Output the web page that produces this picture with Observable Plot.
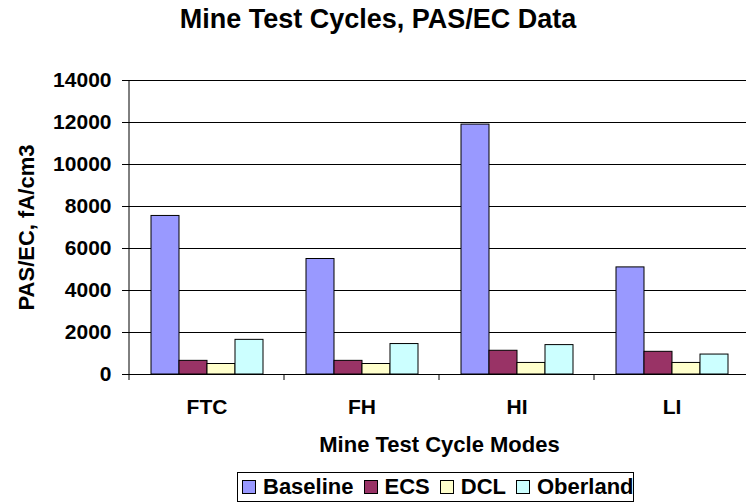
<!DOCTYPE html>
<html>
<head>
<meta charset="utf-8">
<script src="https://cdn.jsdelivr.net/npm/d3@7"></script>
<script src="https://cdn.jsdelivr.net/npm/@observablehq/plot@0.6"></script>
<style>
  body { margin: 0; background: #fff; font-family: "Liberation Sans", Arial, sans-serif; }
  #wrap { position: relative; width: 746px; height: 503px; overflow: hidden; background: #fff; }
  #title { position: absolute; left: 0; top: 6px; width: 756px; text-align: center; font-weight: bold; font-size: 27px; line-height: 27px; color: #000; }
  #chart { position: absolute; left: 0; top: 50px; }
  #legend { position: absolute; left: 237px; top: 472px; width: 397px; height: 30px; box-sizing: border-box; border: 1px solid #000; display: flex; align-items: center; padding-left: 4px; font-weight: bold; font-size: 22px; color: #000; }
  .sw { width: 14px; height: 14px; box-sizing: border-box; border: 1px solid #000; margin-right: 7px; flex: none; }
  .lab { margin-right: 10px; white-space: nowrap; }
</style>
</head>
<body>
<div id="wrap">
  <div id="title">Mine Test Cycles, PAS/EC Data</div>
  <div id="chart"></div>
  <div id="legend"></div>
</div>
<script>
const cycles = ["FTC", "FH", "HI", "LI"];
const series = ["Baseline", "ECS", "DCL", "Oberland"];
const baseline = [7550, 5500, 11900, 5100];
const ecs = [650, 650, 1130, 1080];
const dcl = [500, 500, 550, 550];
const oberland = [1650, 1450, 1400, 950];
const colors = ["#9999FF", "#993366", "#FFFFCC", "#CCFFFF"];
const yTicks = [0, 2000, 4000, 6000, 8000, 10000, 12000, 14000];

const valuesBySeries = [baseline, ecs, dcl, oberland];
const data = [];
cycles.forEach((c, i) => {
  series.forEach((s, j) => data.push({cycle: c, series: s, value: valuesBySeries[j][i]}));
});

const font = "Liberation Sans, Arial, sans-serif";

const chart = Plot.plot({
  width: 746,
  height: 415,
  marginTop: 30,
  marginBottom: 91,
  marginLeft: 128,
  marginRight: 0,
  style: {fontFamily: font, background: "transparent", color: "#000"},
  fx: {domain: cycles, range: [128, 749], paddingInner: 0, paddingOuter: 0, label: null},
  x: {domain: series, paddingInner: 0, paddingOuter: 0.744, axis: null},
  y: {domain: [0, 14000], ticks: yTicks, label: null},
  color: {domain: series, range: colors},
  marks: [
    Plot.ruleY(yTicks, {stroke: "#000", strokeWidth: 1}),
    Plot.barY(data, {fx: "cycle", x: "series", y: "value", fill: "series", stroke: "#000", strokeWidth: 1, inset: 0}),
    Plot.axisY({ticks: yTicks, tickSize: 7, tickPadding: 11, tickFormat: d => String(d), fontSize: 21, fontWeight: "bold",
      label: "PAS/EC, fA/cm3", labelArrow: "none", labelAnchor: "center", labelOffset: 111}),
    Plot.axisFx({anchor: "bottom", tickSize: 0, tickPadding: 25, fontSize: 21, fontWeight: "bold",
      label: "Mine Test Cycle Modes", labelArrow: "none", labelAnchor: "center", labelOffset: 77})
  ]
});

document.getElementById("chart").appendChild(chart);

// axis line and category-boundary tick marks, from the chart's own scales
const svg = d3.select(chart);
const ys = chart.scale("y");
const fxs = chart.scale("fx");
const y0 = ys.apply(0), yTop = ys.apply(14000);
const xLeft = fxs.apply(cycles[0]);
svg.append("line").attr("x1", xLeft).attr("x2", xLeft).attr("y1", yTop).attr("y2", y0)
  .attr("stroke", "#000").attr("stroke-width", 1);
const bounds = cycles.map(c => fxs.apply(c)).concat([fxs.apply(cycles[cycles.length - 1]) + fxs.step]);
bounds.forEach(b => {
  svg.append("line").attr("x1", b).attr("x2", b).attr("y1", y0).attr("y2", y0 + 6)
    .attr("stroke", "#000").attr("stroke-width", 1);
});
svg.selectAll("[aria-label='y-axis label'] text, [aria-label='fx-axis label'] text")
  .style("font-size", "22px").style("font-weight", "bold");

// legend
const legend = d3.select("#legend");
series.forEach((s, i) => {
  legend.append("div").attr("class", "sw").style("background", colors[i]);
  legend.append("div").attr("class", "lab").text(s);
});
</script>
</body>
</html>
